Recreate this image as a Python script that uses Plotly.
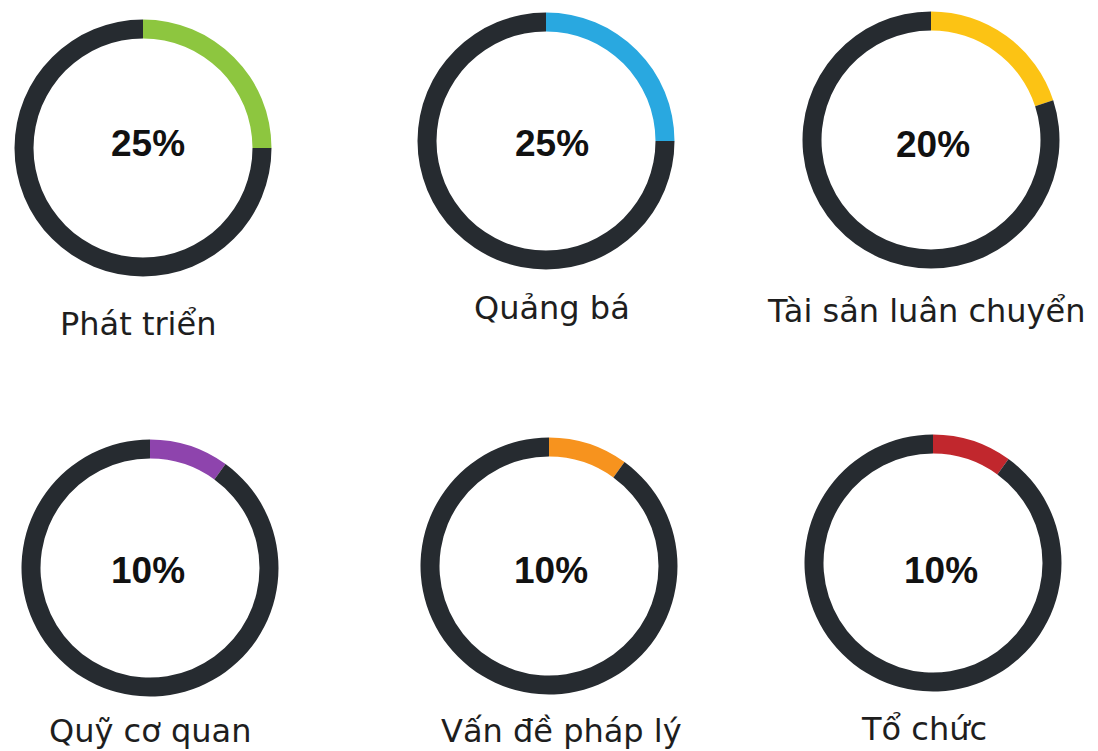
import plotly.graph_objects as go

# ---- data ----
categories = ["Phát triển", "Quảng bá", "Tài sản luân chuyển",
              "Quỹ cơ quan", "Vấn đề pháp lý", "Tổ chức"]
percent_values = [25, 25, 20, 10, 10, 10]
accent_colors = ["#8dc63f", "#29a8e0", "#fcc314", "#8e44ad", "#f7931e", "#c1272d"]
rest_color = "#262b30"

# ---- layout (screen pixel positions; page body adds an 8px offset) ----
W, H = 1098, 751
OFF = 8
centers = [(143, 148), (546, 141), (931, 140), (150, 568), (549, 566), (933, 563)]
radius = 128.5
ring = 19
pct_pos = [(148, 143), (552, 143), (933, 144), (148, 570), (551, 570), (941, 570)]
label_pos = [(138, 324), (552, 308), (926, 311), (150, 731), (561, 731), (924, 729)]


def fx(x):
    return (x - OFF) / W


def fy(y):
    return 1 - (y - OFF) / H


fig = go.Figure()
for i, (cat, v, col) in enumerate(zip(categories, percent_values, accent_colors)):
    cx, cy = centers[i]
    fig.add_trace(go.Pie(
        values=[v, 100 - v],
        labels=[cat, "rest"],
        marker=dict(colors=[col, rest_color], line=dict(width=0)),
        sort=False,
        direction="clockwise",
        rotation=0,
        hole=1 - ring / radius,
        textinfo="none",
        hoverinfo="skip",
        showlegend=False,
        domain=dict(x=[fx(cx - radius), fx(cx + radius)],
                    y=[fy(cy + radius), fy(cy - radius)]),
    ))

annotations = []
for i, (cat, v) in enumerate(zip(categories, percent_values)):
    px, py = pct_pos[i]
    annotations.append(dict(
        text=f"<b>{v}%</b>", x=fx(px), y=fy(py), xref="paper", yref="paper",
        xanchor="center", yanchor="middle", showarrow=False,
        font=dict(family="Liberation Sans, Arial, sans-serif", size=37, color="#111111"),
    ))
    lx, ly = label_pos[i]
    annotations.append(dict(
        text=cat, x=fx(lx), y=fy(ly), xref="paper", yref="paper",
        xanchor="center", yanchor="middle", showarrow=False,
        font=dict(family="DejaVu Sans, Verdana, sans-serif", size=32, color="#1e1e1e"),
    ))

fig.update_layout(
    width=W, height=H,
    margin=dict(l=0, r=0, t=0, b=0),
    paper_bgcolor="white", plot_bgcolor="white",
    annotations=annotations,
)

fig.write_html("out.html")
